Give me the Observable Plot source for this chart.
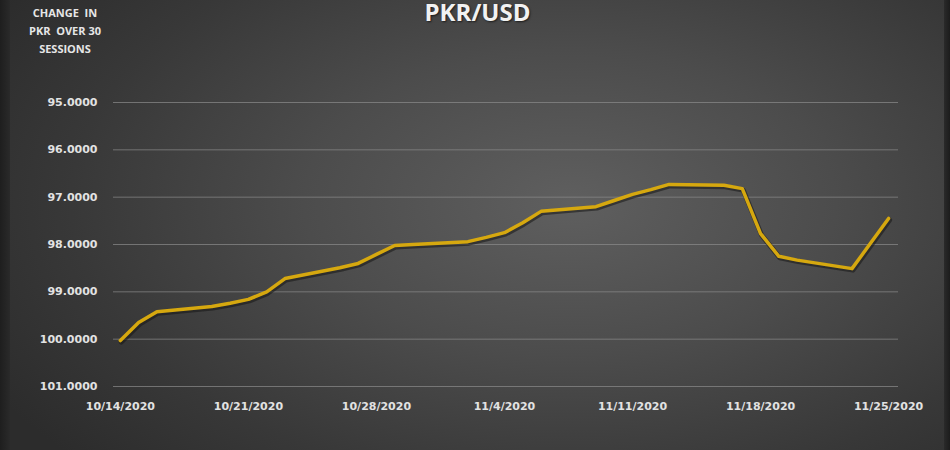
<!DOCTYPE html>
<html>
<head>
<meta charset="utf-8">
<script src="https://cdn.jsdelivr.net/npm/d3@7"></script>
<script src="https://cdn.jsdelivr.net/npm/@observablehq/plot@0.6"></script>
<style>
  html, body { margin: 0; padding: 0; }
  body { width: 950px; height: 450px; overflow: hidden; }
  #wrap {
    position: relative; width: 950px; height: 450px; overflow: hidden;
    background: radial-gradient(ellipse 70% 85% at 60% 45%, #5f5f5f 0%, #4c4c4c 40%, #383838 75%, #2c2c2c 100%);
  }
  #wrap::before {
    content: ""; position: absolute; left: 0; top: 0; width: 10px; height: 450px;
    background: linear-gradient(to right, #1e1e1e, #2a2a2a);
  }
  #wrap::after {
    content: ""; position: absolute; right: 0; top: 0; width: 6px; height: 450px;
    background: linear-gradient(to left, #1c1c1c, #2a2a2a);
  }
  #title {
    position: absolute; left: 0; width: 955px; top: 1px; text-align: center;
    font: bold 24px "Open Sans", sans-serif; color: #f2f2f2; line-height: 22px;
    text-shadow: 1px 1px 2px rgba(0,0,0,0.6);
  }
  #note {
    position: absolute; left: 15px; width: 100px; top: 4px; text-align: center;
    font: bold 11px "Open Sans", sans-serif; color: #e6e6e6; line-height: 18px;
    white-space: pre;
  }
  #chart { position: absolute; left: 0; top: 0; }
</style>
</head>
<body>
<div id="wrap">
  <div id="chart"></div>
  <div id="title">PKR/USD</div>
  <div id="note">CHANGE  IN
PKR  OVER 30
SESSIONS</div>
</div>
<script>
// Session dates (business days)
const dates = [
  "2020-10-14","2020-10-15","2020-10-16","2020-10-19","2020-10-20","2020-10-21","2020-10-22","2020-10-23",
  "2020-10-26","2020-10-27","2020-10-28","2020-10-29","2020-10-30",
  "2020-11-02","2020-11-03","2020-11-04","2020-11-05","2020-11-06",
  "2020-11-09","2020-11-10","2020-11-11","2020-11-12","2020-11-13",
  "2020-11-16","2020-11-17","2020-11-18","2020-11-19","2020-11-20",
  "2020-11-23","2020-11-24","2020-11-25"
];
// Change in PKR (index)
const values = [
  100.03, 99.65, 99.42, 99.31, 99.24, 99.16, 99.00, 98.72,
  98.49, 98.40, 98.21, 98.02, 98.00,
  97.94, 97.85, 97.75, 97.54, 97.30,
  97.20, 97.07, 96.94, 96.84, 96.73,
  96.75, 96.82, 97.77, 98.25, 98.33,
  98.51, 97.98, 97.45
];
// Axis ticks
const yTicks = [95, 96, 97, 98, 99, 100, 101];
const xTickLabels = ["2020-10-14","2020-10-21","2020-10-28","2020-11-04","2020-11-11","2020-11-18","2020-11-25"];

const data = dates.map((d, i) => ({date: new Date(d + "T00:00:00Z"), value: values[i]}));
const xTicks = xTickLabels.map(d => new Date(d + "T00:00:00Z"));
const fmtDate = d3.utcFormat("%-m/%-d/%Y");

const chart = Plot.plot({
  width: 950,
  height: 450,
  marginLeft: 113,
  marginRight: 52,
  marginTop: 102,
  marginBottom: 64,
  style: {background: "transparent", fontFamily: "DejaVu Sans", fontSize: "11px", fontWeight: "bold", color: "#e2e2e2"},
  x: {
    type: "utc",
    domain: [new Date("2020-10-13T15:00:00Z"), new Date("2020-11-25T13:00:00Z")],
    ticks: xTicks,
    tickFormat: fmtDate,
    tickSize: 0,
    tickPadding: 16,
    label: null
  },
  y: {
    domain: [95, 101],
    reverse: true,
    ticks: yTicks,
    tickFormat: d3.format(".4f"),
    tickSize: 0,
    tickPadding: 16,
    label: null
  },
  marks: [
    Plot.gridY(yTicks, {stroke: "#8c8c8c", strokeOpacity: 0.7, strokeWidth: 1}),
    Plot.line(data, {x: "date", y: "value", stroke: "#151515", strokeOpacity: 0.55, strokeWidth: 5, dx: 1, dy: 1.5, strokeLinejoin: "round"}),
    Plot.line(data, {x: "date", y: "value", stroke: "#d6a80f", strokeWidth: 3.5, strokeLinejoin: "round", strokeLinecap: "round"})
  ]
});
document.getElementById("chart").appendChild(chart);
</script>
</body>
</html>
